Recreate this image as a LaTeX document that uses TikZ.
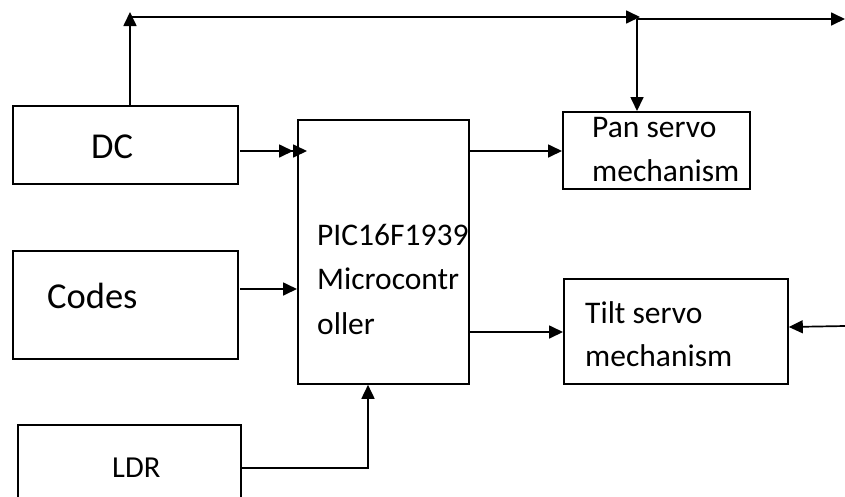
\documentclass[tikz,border=0pt]{standalone}
\usepackage{fontspec}
\setmainfont{Carlito}
\usetikzlibrary{arrows.meta}
\begin{document}
\begin{tikzpicture}[x=1pt,y=-1pt,
  box/.style={draw,line width=1.8pt,inner sep=0pt,anchor=north west},
  conn/.style={line width=1.7pt},
  arr/.style={conn,-{Triangle[length=14pt,width=13pt]}},
  dblarr/.style={conn,-{Triangle[length=14pt,width=13pt]Triangle[length=14pt,width=13pt]}},
  big/.style={font=\fontsize{36.5}{43}\selectfont,inner sep=0pt,anchor=base west},
  mid/.style={font=\fontsize{31.5}{44}\selectfont,inner sep=0pt,anchor=base west},
  small/.style={font=\fontsize{30.5}{40}\selectfont,inner sep=0pt,anchor=base west}]
\useasboundingbox (0,0) rectangle (845,496);
\clip (0,0) rectangle (845,496);
% boxes
\node[box,minimum width=225pt,minimum height=78pt] (dc) at (12,105) {};
\node[box,minimum width=225pt,minimum height=108pt] (codes) at (12,250) {};
\node[box,minimum width=223pt,minimum height=90pt] (ldr) at (17,424) {};
\node[box,minimum width=171pt,minimum height=264pt] (mcu) at (297,119) {};
\node[box,minimum width=187pt,minimum height=77pt] (pan) at (562,111) {};
\node[box,minimum width=224pt,minimum height=105pt] (tilt) at (563,278) {};
% texts
\node[big] (tdc) at (91,158) {DC};
\node[big] (tcodes) at (47,308) {Codes};
\node[small] (tldr) at (112,477) {LDR};
\node[mid] (tm1) at (317,245) {PIC16F1939};
\node[mid] (tm2) at (317,289) {Microcontr};
\node[mid] (tm3) at (317,334) {oller};
\node[mid] (tp1) at (592,137) {Pan servo};
\node[mid] (tp2) at (592,181) {mechanism};
\node[mid] (tt1) at (585,323) {Tilt servo};
\node[mid] (tt2) at (585,366) {mechanism};
% coordinates
\coordinate (top) at (130,12);
\coordinate (j1) at (130,17);
\coordinate (j2) at (640,17);
\coordinate (j3) at (637,19);
\coordinate (rend) at (845,19);
\coordinate (rin) at (845,326);
\coordinate (dcend) at (307,151);
% connectors
\draw[arr] (dc.north -| top) -- (top);
\draw[arr] (j1) -- (j2);
\draw[arr] (j3) -- (rend);
\draw[arr] (j3) -- (pan.north -| j3);
\draw[dblarr] (240,151) -- (dcend);
\draw[arr] (240,289) -- (mcu.west |- 0,289);
\draw[arr] (ldr.east |- 0,468) -| (mcu.south -| 368,0);
\draw[arr] (mcu.east |- 0,151) -- (pan.west |- 0,151);
\draw[arr] (mcu.east |- 0,332) -- (tilt.west |- 0,332);
\draw[arr] (rin) -- (tilt.east |- 0,327);
\end{tikzpicture}
\end{document}
